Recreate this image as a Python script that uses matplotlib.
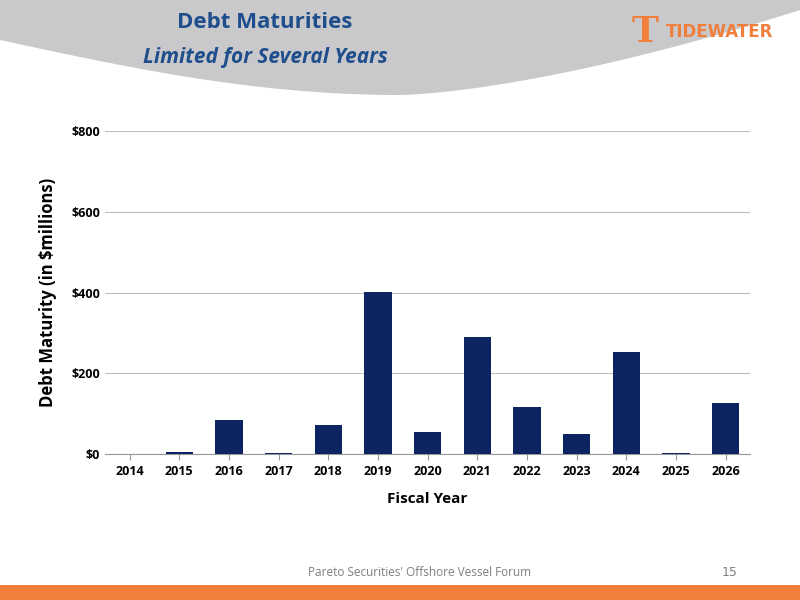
import matplotlib.pyplot as plt
import numpy as np
from matplotlib.patches import Rectangle, Polygon

years = ['2014', '2015', '2016', '2017', '2018', '2019', '2020',
         '2021', '2022', '2023', '2024', '2025', '2026']
maturity = [0, 5, 84, 3, 72, 401, 55, 290, 117, 50, 252, 2, 126]

fig = plt.figure(figsize=(8, 6), dpi=100)

# header band with curved lower edge
bg = fig.add_axes([0, 0, 1, 1], zorder=-1)
bg.set_xlim(0, 800)
bg.set_ylim(600, 0)
bg.axis('off')
xs = np.linspace(0, 800, 200)
edge = 95 - 45 * np.sin(np.pi * xs / 800) ** 0.5 * (xs < 400) + 0 * xs
edge = np.where(xs < 400, 40 + 55 * np.sin(np.pi * xs / 800), 95 - 85 * ((xs - 400) / 400) ** 1.5)
pts = [(0, 0)] + list(zip(xs, edge)) + [(800, 0)]
bg.add_patch(Polygon(pts, closed=True, color='#c9c9cc', lw=0))
bg.add_patch(Rectangle((0, 585), 800, 15, color='#f07f3c', lw=0))
bg.text(265, 22, 'Debt Maturities', ha='center', va='center', fontsize=16,
        fontweight='bold', color='#1f4e8c', family='Open Sans')
bg.text(265, 57, 'Limited for Several Years', ha='center', va='center', fontsize=15,
        fontweight='bold', style='italic', color='#1f4e8c', family='Open Sans')
bg.text(645, 32, 'T', ha='center', va='center', fontsize=26, fontweight='bold',
        color='#f07f3c', family='DejaVu Serif')
bg.text(720, 32, 'TIDEWATER', ha='center', va='center', fontsize=12, fontweight='bold',
        color='#f07f3c', family='DejaVu Sans')
bg.text(420, 572, "Pareto Securities' Offshore Vessel Forum", ha='center', va='center',
        fontsize=8.5, color='#7f7f7f', family='Open Sans')
bg.text(730, 572, '15', ha='center', va='center', fontsize=9, color='#7f7f7f')

ax = fig.add_axes([0.131, 0.243, 0.807, 0.539])
x = np.arange(len(years))
ax.bar(x, maturity, width=0.55, color='#0c2461', zorder=3)
ax.set_xlim(-0.5, len(years) - 0.5)
ax.set_ylim(0, 800)
ax.set_yticks([0, 200, 400, 600, 800])
ax.set_yticklabels(['$0', '$200', '$400', '$600', '$800'])
ax.set_xticks(x)
ax.set_xticklabels(years)
ax.yaxis.grid(True, color='#bfbfbf', lw=0.8, zorder=0)
for s in ['top', 'right', 'left']:
    ax.spines[s].set_visible(False)
ax.spines['bottom'].set_color('#999999')
ax.tick_params(axis='y', length=0, labelsize=9)
ax.tick_params(axis='x', length=4, color='#999999', labelsize=9)
for lab in ax.get_xticklabels() + ax.get_yticklabels():
    lab.set_fontweight('bold')
    lab.set_family('Open Sans')
ax.set_xlabel('Fiscal Year', fontsize=11, fontweight='bold', family='Open Sans', labelpad=10)
ax.set_ylabel('Debt Maturity (in $millions)', fontsize=12, fontweight='bold',
              family='Open Sans', labelpad=10)

fig.savefig('out.png', dpi=100)
